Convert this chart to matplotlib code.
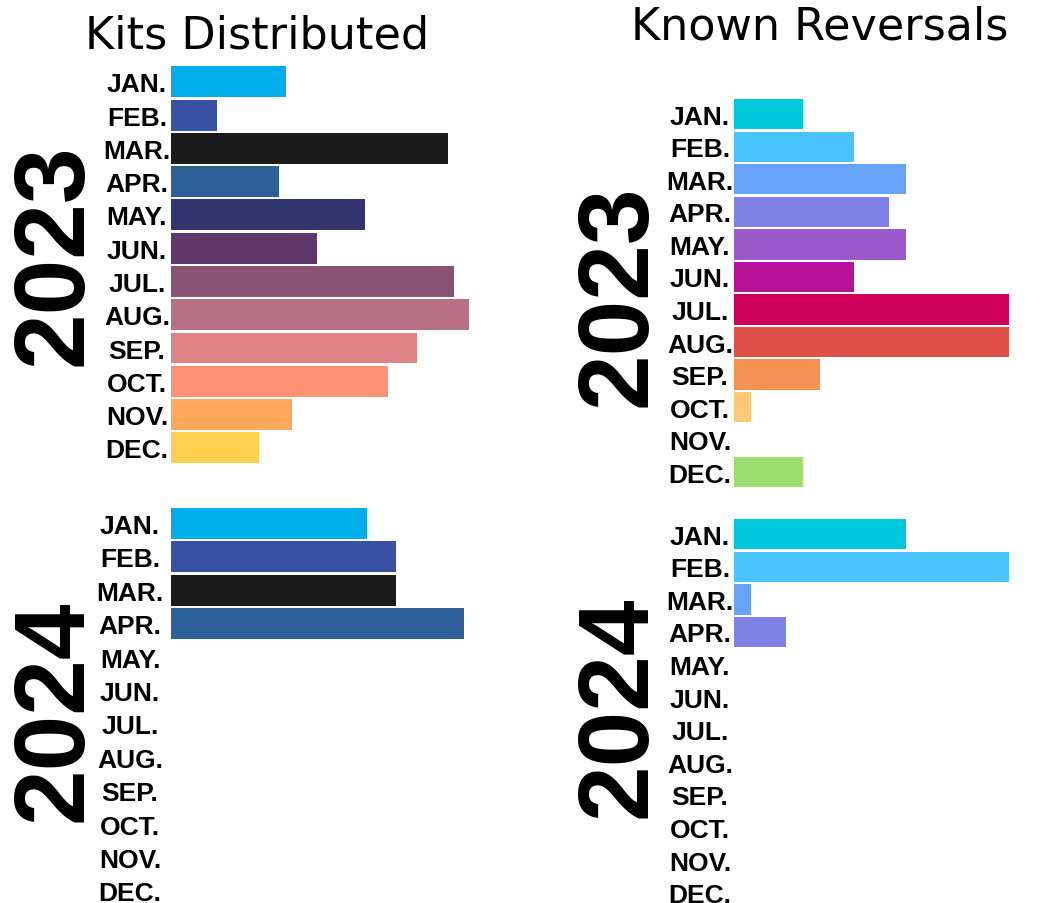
import numpy as np
import matplotlib
matplotlib.use("Agg")
import matplotlib.pyplot as plt

months = ["JAN.", "FEB.", "MAR.", "APR.", "MAY.", "JUN.", "JUL.", "AUG.", "SEP.", "OCT.", "NOV.", "DEC."]

# kits distributed
kits_2023 = [115, 46, 277, 108, 194, 146, 283, 298, 246, 217, 121, 88]
kits_2024 = [196, 225, 225, 293]
kits_colors = ["#00AEEB", "#3851A3", "#1B1B1B", "#2E5F98", "#32356D", "#5E3866",
               "#8A5272", "#B87184", "#E08385", "#FF9175", "#FFA75A", "#FFD04D"]

# known reversals
rev_2023 = [4, 7, 10, 9, 10, 7, 16, 16, 5, 1, 0, 4]
rev_2024 = [10, 16, 1, 3]
rev_colors = ["#00C9DB", "#4AC4FC", "#65A4F8", "#7F81E6", "#9A58C8", "#B8129B",
              "#CE005C", "#DE5048", "#F59253", "#FFC877", "#FFFFFF", "#9ADF6E"]

W, H = 1040, 904
fig = plt.figure(figsize=(W / 100, H / 100), dpi=100)


def px_axes(x, top, w, bottom):
    return fig.add_axes([x / W, 1 - bottom / H, w / W, (bottom - top) / H])


def month_bars(ax, values, colors, xmax, pad):
    y = np.arange(len(values))
    ax.barh(y, values, height=0.93, color=colors[:len(values)])
    ax.set_xlim(0, xmax)
    ax.set_ylim(11.5, -0.5)
    ax.set_yticks(np.arange(12))
    ax.set_yticklabels(months, fontsize=19, fontweight="bold",
                       family="Liberation Sans", ha="center")
    ax.tick_params(axis="y", length=0, pad=pad)
    ax.set_xticks([])
    for s in ax.spines.values():
        s.set_visible(False)
    ax.patch.set_alpha(0)


ax1 = px_axes(171, 66.1, 300, 465.5)
month_bars(ax1, kits_2023, kits_colors, 300, 24.5)
ax2 = px_axes(171, 507.8, 300, 908.6)
month_bars(ax2, kits_2024, kits_colors, 300, 29.5)
ax3 = px_axes(734, 98.9, 300, 489.5)
month_bars(ax3, rev_2023, rev_colors, 300 / 17.2, 24.5)
ax4 = px_axes(734, 518.9, 300, 909.9)
month_bars(ax4, rev_2024, rev_colors, 300 / 17.2, 24.5)


def px_text(x, y, s, **kw):
    fig.text(x / W, 1 - y / H, s, **kw)


# titles
px_text(257, 48.3, "Kits Distributed", fontsize=32, family="DejaVu Sans",
        ha="center", va="baseline")
px_text(820, 40, "Known Reversals", fontsize=32, family="DejaVu Sans",
        ha="center", va="baseline")

# years
year_kw = dict(fontsize=72, fontweight="bold", family="Liberation Sans",
               rotation=90, rotation_mode="anchor", ha="center", va="baseline")
px_text(82, 255, "2023", **year_kw)
px_text(82, 711, "2024", **year_kw)
px_text(645, 296, "2023", **year_kw)
px_text(645, 707, "2024", **year_kw)

fig.savefig("out.png", dpi=100, facecolor="white")
